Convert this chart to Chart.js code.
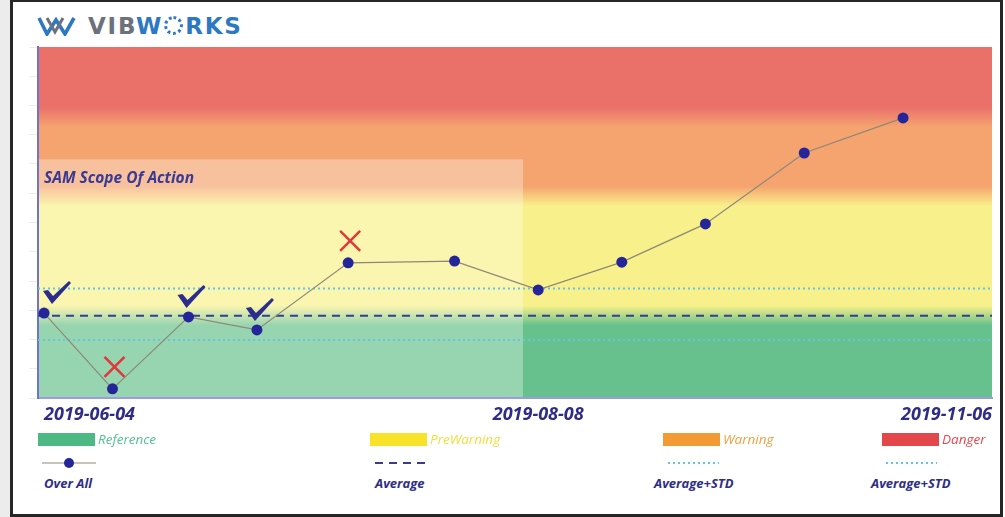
<!DOCTYPE html>
<html>
<head>
<meta charset="utf-8">
<script src="https://cdn.jsdelivr.net/npm/chart.js@4.4.1/dist/chart.umd.min.js"></script>
<style>
  html, body { margin: 0; padding: 0; background: #fff; }
  body { width: 1005px; height: 517px; position: relative; overflow: hidden; font-family: 'Open Sans', sans-serif; }
  #strip { position: absolute; left: 0; top: 0; width: 10px; height: 517px; background: #ececec; }
  #frame { position: absolute; left: 10px; top: 0; width: 993px; height: 517px; box-sizing: border-box; border: 3px solid #262626; border-top-width: 2px; }
  #logoIcon { position: absolute; left: 37px; top: 17px; }
  #logoText { position: absolute; left: 88px; top: 12px; font: 700 23px 'DejaVu Sans', sans-serif; letter-spacing: 1.8px; line-height: 28px; white-space: nowrap; }
  #logoText .g { color: #6e717b; }
  #logoText .b { color: #2d78c2; }
  #logoText .gear { display: inline-block; width: 13px; height: 13px; border: 3px dotted #2d78c2; border-radius: 50%; vertical-align: -1px; margin: 0 2px 0 1px; }
  #chartBox { position: absolute; left: 0; top: 0; width: 1005px; height: 432px; }
  .leg { position: absolute; white-space: nowrap; font-style: italic; }
  .zoneTxt { font-size: 13.5px; line-height: 16px; }
  .lineTxt { font-size: 13px; font-weight: 700; color: #2e2d86; line-height: 16px; }
</style>
</head>
<body>
<div id="strip"></div>
<div id="frame"></div>
<svg id="logoIcon" width="40" height="19" viewBox="0 0 40 19">
  <polyline points="2,1 10,17 19,3 28,17 37,1" fill="none" stroke="#2d78c2" stroke-width="3.6" stroke-linejoin="miter"/>
  <polyline points="10,1 18,15 26,1" fill="none" stroke="#6e717b" stroke-width="3"/>
</svg>
<div id="logoText"><span class="g">VIB</span><span class="b">W</span><span class="gear"></span><span class="b">RKS</span></div>
<div id="chartBox"><canvas id="chart" width="1005" height="432"></canvas></div>
<div id="legend"></div>
<script>
// measurement dates and the overall value at each one
const dates = ['2019-06-04', '2019-06-13', '2019-06-23', '2019-07-02', '2019-07-14', '2019-07-28',
               '2019-08-08', '2019-08-19', '2019-08-30', '2019-09-12', '2019-09-25'];
const overAll = [24.2, 2.6, 23.1, 19.4, 38.5, 39.0, 30.8, 38.7, 49.6, 69.8, 79.8];
const status = ['ok', 'bad', 'ok', 'ok', 'bad', null, null, null, null, null, null];

const average = 23.4;
const averagePlusStd = 31.2;
const averageMinusStd = 16.5;

const tickLabels = ['2019-06-04', '2019-08-08', '2019-11-06'];

const zoneNames = ['Reference', 'PreWarning', 'Warning', 'Danger'];
const zoneLimits = [0, 23.5, 57.5, 80, 100];

const scopeEnd = '2019-08-06';
const scopeTop = 68;
const scopeLabel = 'SAM Scope Of Action';

const lineNames = ['Over All', 'Average', 'Average+STD', 'Average+STD'];

// styles
const zoneBg = ['#66c18d', '#f8f08a', '#f5a46f', '#e9716a'];
const zoneColors = ['#4cb884', '#f8e22a', '#f39a34', '#e3474a'];
const zoneTextColors = ['#55c292', '#f1de3c', '#f0a040', '#e8454a'];
const X_MIN = -0.8, X_MAX = 124.7;

const dayOf = d => (Date.parse(d) - Date.parse(dates[0])) / 86400000;
const tickDays = [dayOf(tickLabels[0]), dayOf(tickLabels[1]), X_MAX];

const zonesPlugin = {
    id: 'zones',
    beforeDraw(chart) {
        const { ctx, chartArea: a, scales: { x, y } } = chart;
        const lo = zoneLimits[0], hi = zoneLimits[zoneLimits.length - 1];
        const g = ctx.createLinearGradient(0, y.getPixelForValue(lo), 0, y.getPixelForValue(hi));
        const blend = 0.028;
        zoneBg.forEach((c, i) => {
            const f0 = (zoneLimits[i] - lo) / (hi - lo);
            const f1 = (zoneLimits[i + 1] - lo) / (hi - lo);
            g.addColorStop(i === 0 ? 0 : f0 + blend, c);
            g.addColorStop(i === zoneBg.length - 1 ? 1 : f1 - blend, c);
        });
        ctx.save();
        ctx.fillStyle = g;
        ctx.fillRect(a.left, a.top, a.right - a.left, a.bottom - a.top);

        // SAM scope of action box
        const sx = x.getPixelForValue(dayOf(scopeEnd));
        const sy = y.getPixelForValue(scopeTop);
        ctx.fillStyle = 'rgba(255,255,255,0.32)';
        ctx.fillRect(a.left, sy, sx - a.left, a.bottom - sy);
        ctx.font = 'italic 700 15.5px "Open Sans"';
        ctx.fillStyle = '#3a3994';
        ctx.textBaseline = 'middle';
        ctx.fillText(scopeLabel, a.left + 6, sy + 19);
        ctx.restore();
    }
};

const marksPlugin = {
    id: 'marks',
    afterDatasetsDraw(chart) {
        const { ctx, chartArea: a } = chart;
        const pts = chart.getDatasetMeta(0).data;
        ctx.save();
        status.forEach((s, i) => {
            if (!s) return;
            const px = pts[i].x, py = pts[i].y;
            if (s === 'ok') {
                const x0 = Math.max(px - 11, a.left + 5), y0 = py - 32;
                ctx.fillStyle = '#2c2c8c';
                ctx.beginPath();
                ctx.moveTo(x0, y0 + 10);
                ctx.lineTo(x0 + 5, y0 + 9);
                ctx.lineTo(x0 + 10, y0 + 15);
                ctx.lineTo(x0 + 26, y0);
                ctx.lineTo(x0 + 28, y0 + 2);
                ctx.lineTo(x0 + 9, y0 + 23);
                ctx.closePath();
                ctx.fill();
            } else {
                const cx = px + 2, cy = py - 22, r = 10;
                ctx.strokeStyle = '#e0383a';
                ctx.lineWidth = 2.5;
                ctx.beginPath();
                ctx.moveTo(cx - r, cy - r); ctx.lineTo(cx + r, cy + r);
                ctx.moveTo(cx + r, cy - r); ctx.lineTo(cx - r, cy + r);
                ctx.stroke();
            }
        });
        ctx.restore();
    }
};

function flat(v) {
    return [{ x: X_MIN, y: v }, { x: X_MAX, y: v }];
}

const ctx = document.getElementById('chart').getContext('2d');
const chart = new Chart(ctx, {
    type: 'line',
    data: {
        datasets: [
            {
                label: lineNames[0],
                data: dates.map((d, i) => ({ x: dayOf(d), y: overAll[i] })),
                borderColor: '#8d8878',
                borderWidth: 1.2,
                pointRadius: 5.5,
                pointBackgroundColor: '#25259a',
                pointBorderWidth: 0
            },
            {
                label: lineNames[1],
                data: flat(average),
                borderColor: '#3b3b8f',
                borderWidth: 2,
                borderDash: [8, 6],
                pointRadius: 0
            },
            {
                label: lineNames[2],
                data: flat(averagePlusStd),
                borderColor: '#5ec6ea',
                borderWidth: 2,
                borderDash: [2, 3],
                pointRadius: 0
            },
            {
                label: lineNames[3],
                data: flat(averageMinusStd),
                borderColor: '#5ec6ea',
                borderWidth: 2,
                borderDash: [2, 3],
                pointRadius: 0
            }
        ]
    },
    options: {
        responsive: false,
        animation: false,
        devicePixelRatio: 1,
        layout: { padding: { left: 10, right: 13, top: 47, bottom: 0 } },
        plugins: { legend: { display: false }, tooltip: { enabled: false } },
        scales: {
            x: {
                type: 'linear',
                min: X_MIN,
                max: X_MAX,
                afterBuildTicks: scale => { scale.ticks = tickDays.map(v => ({ value: v })); },
                afterFit: scale => { scale.height = 34; },
                grid: { drawOnChartArea: false, drawTicks: false },
                border: { color: '#9c9ce2', width: 2 },
                ticks: {
                    autoSkip: false,
                    maxRotation: 0,
                    align: 'inner',
                    padding: 6,
                    color: '#2f2c88',
                    font: { family: 'Open Sans', size: 18, weight: '700', style: 'italic' },
                    callback: (v, i) => tickLabels[i]
                }
            },
            y: {
                min: 0,
                max: 100,
                afterFit: scale => { scale.width = 28; },
                grid: { drawOnChartArea: false, drawTicks: true, tickLength: 9, color: '#ececec' },
                border: { color: '#6f72cf', width: 2 },
                ticks: { display: false, stepSize: 100 / 12 }
            }
        }
    },
    plugins: [zonesPlugin, marksPlugin]
});

// legend built from the same names
const legend = document.getElementById('legend');
const colX = [38, 370, 663, 882];
zoneNames.forEach((name, i) => {
    const sw = document.createElement('div');
    sw.className = 'leg';
    sw.style.cssText = `left:${colX[i]}px;top:433px;width:57px;height:13px;background:${zoneColors[i]};`;
    legend.appendChild(sw);
    const t = document.createElement('div');
    t.className = 'leg zoneTxt';
    t.style.cssText += `left:${colX[i] + 60}px;top:431px;color:${zoneTextColors[i]};`;
    t.textContent = name;
    legend.appendChild(t);
});

const symX = [42, 375, 668, 886];
const lineTxtX = [44, 375, 654, 871];
const ds = chart.data.datasets;
lineNames.forEach((name, i) => {
    const c = document.createElement('canvas');
    c.width = 56; c.height = 12;
    c.className = 'leg';
    c.style.cssText = `left:${symX[i]}px;top:457px;`;
    const g = c.getContext('2d');
    g.strokeStyle = ds[i].borderColor;
    g.lineWidth = i === 0 ? 1.2 : 2;
    g.setLineDash(ds[i].borderDash || []);
    g.beginPath(); g.moveTo(0, 6); g.lineTo(i === 0 ? 54 : 51, 6); g.stroke();
    if (i === 0) {
        g.fillStyle = ds[0].pointBackgroundColor;
        g.beginPath(); g.arc(27, 6, 5, 0, Math.PI * 2); g.fill();
    }
    legend.appendChild(c);
    const t = document.createElement('div');
    t.className = 'leg lineTxt';
    t.style.cssText = `left:${lineTxtX[i]}px;top:475px;`;
    t.textContent = name;
    legend.appendChild(t);
});
</script>
</body>
</html>
